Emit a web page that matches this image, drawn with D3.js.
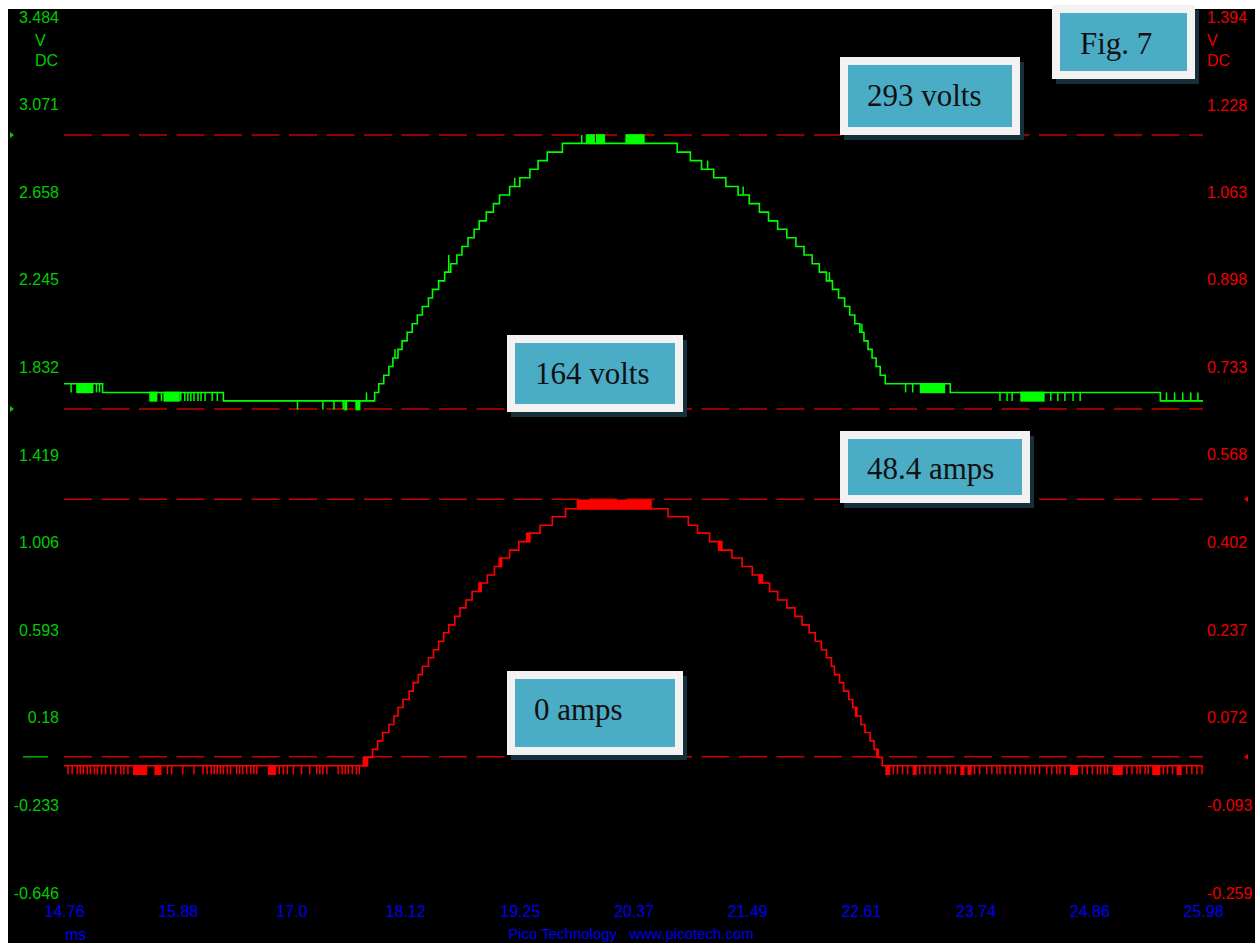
<!DOCTYPE html>
<html>
<head>
<meta charset="utf-8">
<script src="https://cdn.jsdelivr.net/npm/d3@7"></script>
<style>
body { margin: 0; background: #fff; }
svg { display: block; }
</style>
</head>
<body>
<svg id="chart" width="1255" height="943"></svg>
<script>
// ---- data ----
var timeTicks = [14.76, 15.88, 17.0, 18.12, 19.25, 20.37, 21.49, 22.61, 23.74, 24.86, 25.98];
var timeLabels = ["14.76", "15.88", "17.0", "18.12", "19.25", "20.37", "21.49", "22.61", "23.74", "24.86", "25.98"];
var leftTicks = [3.484, 3.071, 2.658, 2.245, 1.832, 1.419, 1.006, 0.593, 0.18, -0.233, -0.646];
var leftLabels = ["3.484", "3.071", "2.658", "2.245", "1.832", "1.419", "1.006", "0.593", "0.18", "-0.233", "-0.646"];
var rightTicks = [1.394, 1.228, 1.063, 0.898, 0.733, 0.568, 0.402, 0.237, 0.072, -0.093, -0.259];
var rightLabels = ["1.394", "1.228", "1.063", "0.898", "0.733", "0.568", "0.402", "0.237", "0.072", "-0.093", "-0.259"];

// channel A (green, left axis) - voltage, stepped samples [ms, V]
var voltsTrace = [
  [14.76, 1.755], [15.14, 1.714], [16.33, 1.674],
  [17.82, 1.714], [17.86, 1.755], [17.91, 1.795], [17.96, 1.836], [18.00, 1.876], [18.05, 1.917],
  [18.09, 1.957], [18.14, 1.998], [18.19, 2.038], [18.24, 2.079], [18.29, 2.119], [18.35, 2.159],
  [18.39, 2.200], [18.45, 2.240], [18.51, 2.281], [18.57, 2.321], [18.63, 2.362], [18.68, 2.402],
  [18.74, 2.443], [18.80, 2.483], [18.85, 2.523], [18.92, 2.564], [18.99, 2.604], [19.05, 2.645],
  [19.15, 2.685], [19.25, 2.726], [19.35, 2.766], [19.43, 2.807], [19.52, 2.847], [19.67, 2.888],
  [20.80, 2.847], [20.93, 2.807], [21.04, 2.766], [21.16, 2.726], [21.28, 2.685], [21.40, 2.645],
  [21.51, 2.604], [21.61, 2.564], [21.70, 2.523], [21.79, 2.483], [21.88, 2.443], [21.97, 2.402],
  [22.05, 2.362], [22.13, 2.321], [22.20, 2.281], [22.27, 2.240], [22.33, 2.200], [22.39, 2.159],
  [22.45, 2.119], [22.50, 2.079], [22.55, 2.038], [22.60, 1.998], [22.64, 1.957], [22.68, 1.917],
  [22.72, 1.876], [22.76, 1.836], [22.80, 1.795], [22.85, 1.755],
  [23.49, 1.714], [25.56, 1.674], [25.98, 1.674]
];
// single-sample glitches [ms, V]
var voltsSpikes = [
  [14.83, 1.714], [15.08, 1.714], [15.11, 1.714], [15.72, 1.674], [15.91, 1.674], [15.95, 1.674],
  [15.98, 1.674], [16.01, 1.674], [16.04, 1.674], [16.08, 1.674], [16.11, 1.674], [16.15, 1.674],
  [16.22, 1.674], [16.27, 1.674], [17.06, 1.633], [17.31, 1.633], [17.42, 1.633], [17.51, 1.633],
  [17.74, 1.714], [18.02, 1.917], [18.55, 2.362], [19.20, 2.726], [19.86, 2.928], [20.40, 2.928],
  [21.10, 2.807], [21.45, 2.685], [22.30, 2.281], [22.62, 2.038], [23.05, 1.714], [23.12, 1.714],
  [23.98, 1.674], [24.05, 1.674], [24.10, 1.674], [24.48, 1.674], [24.55, 1.674], [24.62, 1.674],
  [24.70, 1.674], [24.77, 1.674], [25.62, 1.714], [25.70, 1.714], [25.78, 1.714], [25.86, 1.714], [25.93, 1.714]
];
// dense dither bands [ms from, ms to, V]
var voltsBands = [
  [14.88, 15.05, 1.714], [15.60, 15.68, 1.674], [15.74, 15.90, 1.674], [17.52, 17.55, 1.633],
  [17.63, 17.68, 1.633], [19.90, 19.99, 2.928], [20.00, 20.09, 2.928], [20.29, 20.48, 2.928],
  [23.19, 23.44, 1.714], [24.18, 24.42, 1.674]
];

// channel B (red, right axis) - current clamp, stepped samples [ms, V]
var ampsTrace = [
  [14.76, -0.019],
  [17.75, -0.003], [17.80, 0.012], [17.85, 0.028], [17.90, 0.044], [17.96, 0.059], [18.01, 0.075],
  [18.05, 0.091], [18.10, 0.106], [18.16, 0.122], [18.20, 0.138], [18.25, 0.153], [18.29, 0.169],
  [18.35, 0.185], [18.40, 0.200], [18.45, 0.216], [18.50, 0.232], [18.55, 0.247], [18.61, 0.263],
  [18.66, 0.279], [18.72, 0.294], [18.78, 0.310], [18.87, 0.326], [18.93, 0.341], [19.00, 0.357],
  [19.07, 0.373], [19.15, 0.388], [19.24, 0.404], [19.35, 0.420], [19.45, 0.435], [19.57, 0.451],
  [19.70, 0.466],
  [20.71, 0.451], [20.91, 0.435], [21.00, 0.420], [21.12, 0.404], [21.24, 0.388], [21.34, 0.373],
  [21.44, 0.357], [21.54, 0.341], [21.64, 0.326], [21.71, 0.310], [21.79, 0.294], [21.88, 0.279],
  [21.96, 0.263], [22.03, 0.247], [22.10, 0.232], [22.16, 0.216], [22.22, 0.200], [22.27, 0.185],
  [22.32, 0.169], [22.35, 0.153], [22.40, 0.138], [22.44, 0.122], [22.49, 0.106], [22.53, 0.091],
  [22.57, 0.075], [22.61, 0.059], [22.65, 0.044], [22.70, 0.028], [22.74, 0.012], [22.78, -0.003],
  [22.82, -0.019],
  [25.98, -0.019]
];
var ampsSpikeTimes = [
  14.80, 14.84, 14.89, 14.92, 14.95, 14.99, 15.02, 15.06, 15.09, 15.13, 15.17, 15.22, 15.27, 15.32,
  15.35, 15.39, 15.78, 15.82, 15.93, 16.04, 16.13, 16.17, 16.21, 16.24, 16.27, 16.30, 16.33, 16.37,
  16.40, 16.46, 16.49, 16.52, 16.56, 16.60, 16.63, 16.66, 16.88, 16.92, 16.96, 17.02, 17.10, 17.18,
  17.25, 17.28, 17.31, 17.35, 17.46, 17.50, 17.53, 17.56, 17.60, 17.64, 17.67,
  22.93, 22.97, 23.02, 23.07, 23.19, 23.24, 23.29, 23.34, 23.39, 23.46, 23.49, 23.54, 23.73, 23.78,
  23.85, 23.90, 23.95, 23.98, 24.03, 24.08, 24.13, 24.18, 24.23, 24.28, 24.32, 24.37, 24.44, 24.49,
  24.54, 24.57, 24.62, 24.79, 24.84, 24.89, 24.94, 24.97, 25.01, 25.04, 25.23, 25.28, 25.33, 25.36,
  25.41, 25.44, 25.59, 25.63, 25.68, 25.82, 25.87, 25.92, 25.97
];
var ampsSpikeLevel = -0.035;
var ampsBands = [
  [15.44, 15.58, -0.035], [15.65, 15.72, -0.035], [16.77, 16.85, -0.035], [17.70, 17.75, -0.003],
  [18.84, 18.87, 0.326], [19.04, 19.07, 0.373], [19.31, 19.35, 0.420], [19.81, 20.55, 0.482],
  [21.20, 21.24, 0.388], [21.60, 21.64, 0.326], [22.55, 22.57, 0.075], [22.76, 22.78, -0.003],
  [22.85, 22.90, -0.035], [23.12, 23.16, -0.035], [23.59, 23.63, -0.035], [23.66, 23.70, -0.035],
  [24.67, 24.75, -0.035], [25.09, 25.19, -0.035], [25.48, 25.56, -0.035], [25.72, 25.77, -0.035]
];

// cursor rulers
var voltsCursors = [2.928, 1.636];
var ampsCursors = [0.484, -0.002];
var boxTexts = ["Fig. 7", "293 volts", "164 volts", "48.4 amps", "0 amps"];

// ---- drawing ----
var width = 1255, height = 943;
var svg = d3.select("#chart");

svg.append("rect").attr("x", 8).attr("y", 9).attr("width", width - 8).attr("height", height - 9)
    .attr("fill", "#000");

var x = d3.scaleLinear().domain([14.76, 25.98]).range([64, 1203]);
var yL = d3.scaleLinear().domain([-0.646, 3.484]).range([893, 17]);
var yR = d3.scaleLinear().domain([-0.259, 1.394]).range([893, 17]);

var labelFont = "'Liberation Sans', Arial, sans-serif";

function styleAxis(g, color) {
    g.select(".domain").remove();
    g.selectAll("text")
        .attr("fill", color)
        .style("font-family", labelFont)
        .style("font-size", "16px");
}

svg.append("g")
    .attr("transform", "translate(59,0)")
    .call(d3.axisLeft(yL).tickValues(leftTicks).tickSize(0).tickPadding(0)
        .tickFormat(function(d, i) { return leftLabels[i]; }))
    .call(styleAxis, "#00cc00");

svg.append("g")
    .attr("transform", "translate(1207,0)")
    .call(d3.axisRight(yR).tickValues(rightTicks).tickSize(0).tickPadding(0)
        .tickFormat(function(d, i) { return rightLabels[i]; }))
    .call(styleAxis, "#e80000");

svg.append("g")
    .attr("transform", "translate(0,906)")
    .call(d3.axisBottom(x).tickValues(timeTicks).tickSize(0).tickPadding(0)
        .tickFormat(function(d, i) { return timeLabels[i]; }))
    .call(styleAxis, "#0000ee");

// unit captions
var units = [
    {t: "V", x: 35, y: 46, c: "#00cc00"}, {t: "DC", x: 35, y: 66, c: "#00cc00"},
    {t: "V", x: 1207, y: 46, c: "#e80000"}, {t: "DC", x: 1207, y: 66, c: "#e80000"},
    {t: "ms", x: 65, y: 940, c: "#0000ee"}
];
svg.selectAll(".unit").data(units).enter().append("text")
    .attr("class", "unit")
    .attr("x", function(d) { return d.x; })
    .attr("y", function(d) { return d.y; })
    .attr("fill", function(d) { return d.c; })
    .style("font-family", labelFont).style("font-size", "16px")
    .text(function(d) { return d.t; });

svg.append("text")
    .attr("x", 631).attr("y", 939)
    .attr("text-anchor", "middle")
    .attr("fill", "#0000ee")
    .style("font-family", labelFont).style("font-size", "15px")
    .attr("xml:space", "preserve")
    .text("Pico Technology   www.picotech.com");

// cursor rulers
var cursorRows = voltsCursors.map(function(v) { return yL(v); })
    .concat(ampsCursors.map(function(v) { return yR(v); }));
svg.selectAll(".cursor").data(cursorRows).enter().append("line")
    .attr("class", "cursor")
    .attr("x1", x(14.76)).attr("x2", x(25.98))
    .attr("y1", function(d) { return d; }).attr("y2", function(d) { return d; })
    .attr("stroke", "#c80000").attr("stroke-width", 1.5)
    .attr("stroke-dasharray", "28,9.5");

// channel markers
svg.selectAll(".mkA").data(voltsCursors).enter().append("path")
    .attr("class", "mkA")
    .attr("d", function(v) { var y = yL(v); return "M10," + (y - 3) + "L14," + y + "L10," + (y + 3) + "Z"; })
    .attr("fill", "#00cc00");
svg.append("line")
    .attr("x1", 23).attr("x2", 48)
    .attr("y1", yR(ampsCursors[1])).attr("y2", yR(ampsCursors[1]))
    .attr("stroke", "#00b000").attr("stroke-width", 1.5);
svg.selectAll(".mkB").data(ampsCursors).enter().append("path")
    .attr("class", "mkB")
    .attr("d", function(v) { var y = yR(v); return "M1248," + (y - 3) + "L1244," + y + "L1248," + (y + 3) + "Z"; })
    .attr("fill", "#e80000");

// traces
function levelAt(series, t) {
    var i = d3.bisector(function(d) { return d[0]; }).right(series, t) - 1;
    return series[Math.max(0, i)][1];
}

function drawChannel(series, spikes, bands, y, color) {
    var g = svg.append("g");
    g.selectAll("rect").data(bands).enter().append("rect")
        .attr("x", function(d) { return x(d[0]); })
        .attr("width", function(d) { return x(d[1]) - x(d[0]); })
        .attr("y", function(d) { return Math.min(y(d[2]), y(levelAt(series, d[0]))) - 0.75; })
        .attr("height", function(d) { return Math.abs(y(d[2]) - y(levelAt(series, d[0]))) + 1.5; })
        .attr("fill", color);
    g.selectAll("line").data(spikes).enter().append("line")
        .attr("x1", function(d) { return x(d[0]); }).attr("x2", function(d) { return x(d[0]); })
        .attr("y1", function(d) { return y(levelAt(series, d[0])); })
        .attr("y2", function(d) { return y(d[1]); })
        .attr("stroke", color).attr("stroke-width", 1.5);
    var line = d3.line()
        .x(function(d) { return x(d[0]); })
        .y(function(d) { return y(d[1]); })
        .curve(d3.curveStepAfter);
    g.append("path")
        .attr("d", line(series))
        .attr("fill", "none")
        .attr("stroke", color)
        .attr("stroke-width", 1.6);
}

drawChannel(voltsTrace, voltsSpikes, voltsBands, yL, "#00ff00");
drawChannel(ampsTrace, ampsSpikeTimes.map(function(t) { return [t, ampsSpikeLevel]; }), ampsBands, yR, "#ff0000");

// annotation boxes
var boxLayout = [
    {x: 1052, y: 5, w: 143, h: 74, tx: 1080, ty: 54},
    {x: 840, y: 57, w: 180, h: 78, tx: 867, ty: 106},
    {x: 507, y: 335, w: 176, h: 77, tx: 535, ty: 384},
    {x: 840, y: 431, w: 190, h: 72, tx: 867, ty: 479},
    {x: 507, y: 671, w: 176, h: 84, tx: 534, ty: 720}
];
var boxes = svg.selectAll(".note").data(boxTexts).enter().append("g").attr("class", "note");
boxes.append("rect")
    .attr("x", function(d, i) { return boxLayout[i].x + 4; })
    .attr("y", function(d, i) { return boxLayout[i].y + 5; })
    .attr("width", function(d, i) { return boxLayout[i].w; })
    .attr("height", function(d, i) { return boxLayout[i].h; })
    .attr("fill", "#16303a");
boxes.append("rect")
    .attr("x", function(d, i) { return boxLayout[i].x; })
    .attr("y", function(d, i) { return boxLayout[i].y; })
    .attr("width", function(d, i) { return boxLayout[i].w; })
    .attr("height", function(d, i) { return boxLayout[i].h; })
    .attr("fill", "#f2f2f2");
boxes.append("rect")
    .attr("x", function(d, i) { return boxLayout[i].x + 8; })
    .attr("y", function(d, i) { return boxLayout[i].y + 8; })
    .attr("width", function(d, i) { return boxLayout[i].w - 16; })
    .attr("height", function(d, i) { return boxLayout[i].h - 16; })
    .attr("fill", "#4bacc6");
boxes.append("text")
    .attr("x", function(d, i) { return boxLayout[i].tx; })
    .attr("y", function(d, i) { return boxLayout[i].ty; })
    .attr("fill", "#111")
    .style("font-family", "'Liberation Serif', 'Times New Roman', serif")
    .style("font-size", "31px")
    .text(function(d) { return d; });
</script>
</body>
</html>
